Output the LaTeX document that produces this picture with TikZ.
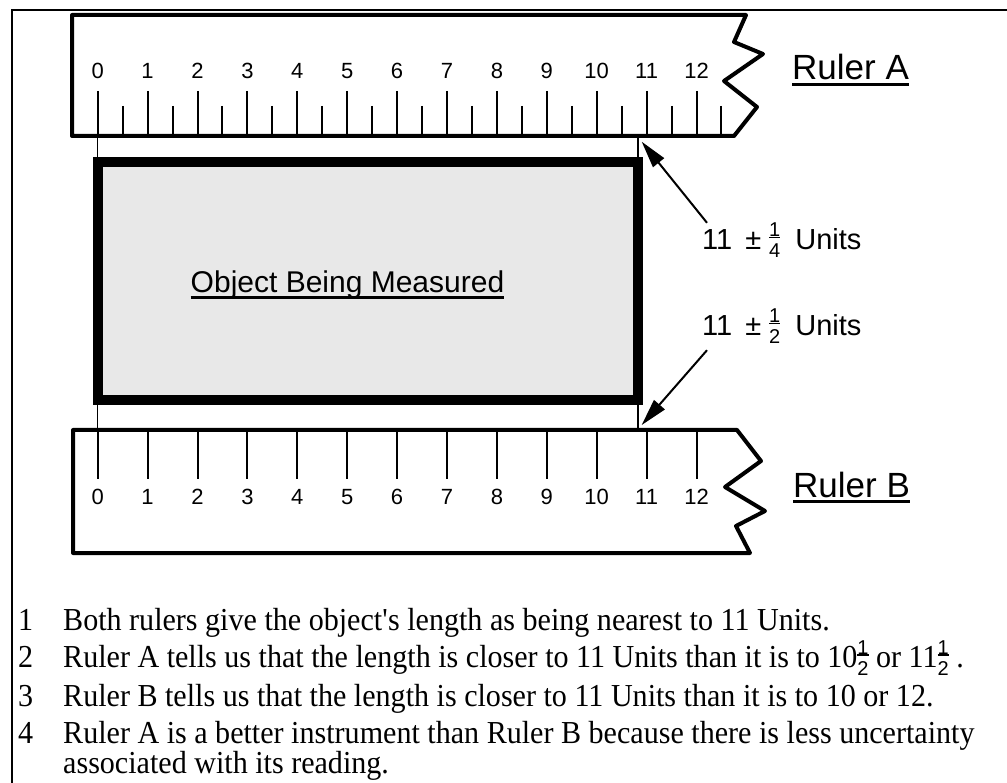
\documentclass[tikz,border=0pt]{standalone}
\usepackage{fontspec}
\setmainfont{Liberation Sans}
\newfontfamily\timesfont[FakeStretch=0.94]{Liberation Serif}
\usetikzlibrary{arrows.meta}

\newcommand{\ulbox}[1]{\setbox0=\hbox{#1}\rlap{\rule[-6pt]{\wd0}{3pt}}\box0}
\newcommand{\vfrac}[2]{\raisebox{-8pt}{\normalfont\fontsize{20}{20}\selectfont\setlength{\arrayrulewidth}{1.5pt}%
  \begin{tabular}[b]{@{}c@{}}#1\\[-6pt]\hline\rule{0pt}{19.5pt}#2\end{tabular}}}

\tikzset{
  ruler/.style={line width=4pt, line join=round},
  tick/.style={line width=2pt},
  guide/.style={line width=1.5pt},
  num/.style={font=\fontsize{22}{22}\selectfont, inner sep=0pt, anchor=base},
  title/.style={font=\fontsize{35}{35}\selectfont, inner sep=0pt, anchor=base west},
  note/.style={font=\fontsize{29}{29}\selectfont, inner sep=0pt, anchor=base west},
  item/.style={font=\timesfont\fontsize{32}{32}\selectfont, inner sep=0pt, anchor=base west},
  pointer/.style={line width=2pt, -{Triangle[length=27pt,width=14pt]}}
}

\begin{document}
\begin{tikzpicture}[x=1pt,y=-1pt]
\useasboundingbox (0,0) rectangle (1007,783);
\clip (0,0) rectangle (1007,783);

% frame
\draw[line width=2pt] (11.5,800) -- (11.5,10) -- (1020,10);

% guide lines
\draw[guide] (97.7,136) -- (97.7,430);
\draw[guide] (638,136) -- (638,430);

% object
\draw[line width=10pt, fill=black!9] (97.5,161.7) rectangle (638,400);
\node[font=\fontsize{30}{30}\selectfont, inner sep=0pt, anchor=base] (object) at (347.5,293) {\ulbox{Object Being Measured}};

% ruler A
\draw[ruler] (72,15) -- (746,15) -- (734,42) -- (763,54) -- (724,81) -- (757,107) -- (734,136) -- (72,136) -- cycle;
\foreach \k in {0,...,12}{
  \draw[tick] ({97.7+49.9*\k},91) -- ({97.7+49.9*\k},136);
  \draw[tick] ({122.65+49.9*\k},106) -- ({122.65+49.9*\k},136);
  \node[num] (a\k) at ({97.7+49.9*\k},79) {\k};
}
\node[title] (rulerA) at (792,80) {\ulbox{Ruler A}};

% ruler B
\draw[ruler] (73,430) -- (737,430) -- (761,461) -- (725,487) -- (765,511) -- (736,526) -- (750,553) -- (73,553) -- cycle;
\foreach \k in {0,...,12}{
  \draw[tick] ({97.7+49.9*\k},430) -- ({97.7+49.9*\k},479);
  \node[num] (b\k) at ({97.7+49.9*\k},504) {\k};
}
\node[title] (rulerB) at (793,497) {\ulbox{Ruler B}};

% readings
\node[note] (plusA) at (702,250) {11\hspace{13pt}±\hspace{8pt}\vfrac{1}{4}\hspace{15pt}Units};
\node[note] (plusB) at (702,336) {11\hspace{13pt}±\hspace{8pt}\vfrac{1}{2}\hspace{15pt}Units};
\coordinate (tipA) at (641.7,141.7);
\coordinate (tipB) at (641.7,425);
\draw[pointer] ([xshift=5pt]plusA.north west) -- (tipA);
\draw[pointer] ([xshift=5pt]plusB.south west) -- (tipB);

% notes
\node[item] (n1) at (18,630) {1};
\node[item] (t1) at (63,630) {Both rulers give the object\textquotesingle s length as being nearest to 11 Units.};
\node[item] (n2) at (18,667) {2};
\node[item] (t2) at (63,667) {Ruler A tells us that the length is closer to 11 Units than it is to 10\vfrac{1}{2} or 11\vfrac{1}{2} .};
\node[item] (n3) at (18,706) {3};
\node[item] (t3) at (63,706) {Ruler B tells us that the length is closer to 11 Units than it is to 10 or 12.};
\node[item] (n4) at (18,743) {4};
\node[item] (t4) at (63,743) {Ruler A is a better instrument than Ruler B because there is less uncertainty};
\node[item] (t5) at (63,773) {associated with its reading.};

\end{tikzpicture}
\end{document}
